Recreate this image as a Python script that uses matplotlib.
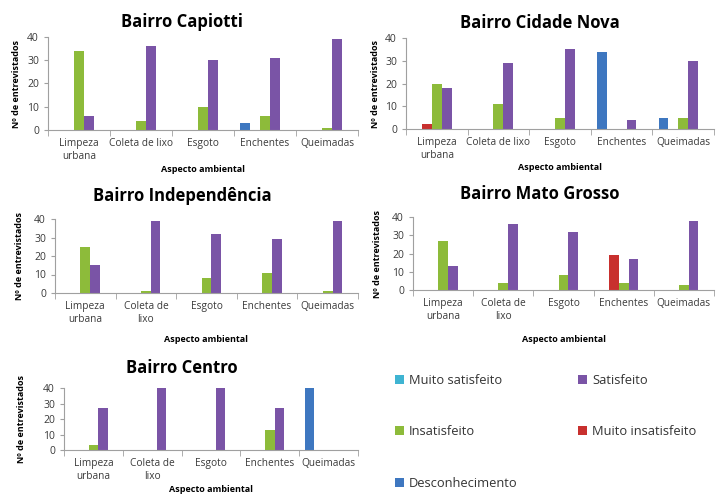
import matplotlib
matplotlib.use("Agg")
import matplotlib.pyplot as plt
import numpy as np

plt.rcParams['font.family'] = ['Open Sans', 'DejaVu Sans']

categories_one_line = ["Limpeza\nurbana", "Coleta de lixo", "Esgoto", "Enchentes", "Queimadas"]
categories_two_line = ["Limpeza\nurbana", "Coleta de\nlixo", "Esgoto", "Enchentes", "Queimadas"]
series = ["Desconhecimento", "Muito insatisfeito", "Insatisfeito", "Satisfeito", "Muito satisfeito"]
colors = {"Desconhecimento": "#3E77C0", "Muito insatisfeito": "#C8302E",
          "Insatisfeito": "#8DBB3A", "Satisfeito": "#7A54A6", "Muito satisfeito": "#3FB4D2"}

capiotti = {"Desconhecimento": [0, 0, 0, 3, 0], "Muito insatisfeito": [0, 0, 0, 0, 0],
            "Insatisfeito": [34, 4, 10, 6, 1], "Satisfeito": [6, 36, 30, 31, 39],
            "Muito satisfeito": [0, 0, 0, 0, 0]}
cidade_nova = {"Desconhecimento": [0, 0, 0, 34, 5], "Muito insatisfeito": [2, 0, 0, 0, 0],
               "Insatisfeito": [20, 11, 5, 0, 5], "Satisfeito": [18, 29, 35, 4, 30],
               "Muito satisfeito": [0, 0, 0, 0, 0]}
independencia = {"Desconhecimento": [0, 0, 0, 0, 0], "Muito insatisfeito": [0, 0, 0, 0, 0],
                 "Insatisfeito": [25, 1, 8, 11, 1], "Satisfeito": [15, 39, 32, 29, 39],
                 "Muito satisfeito": [0, 0, 0, 0, 0]}
mato_grosso = {"Desconhecimento": [0, 0, 0, 0, 0], "Muito insatisfeito": [0, 0, 0, 19, 0],
               "Insatisfeito": [27, 4, 8, 4, 3], "Satisfeito": [13, 36, 32, 17, 38],
               "Muito satisfeito": [0, 0, 0, 0, 0]}
centro = {"Desconhecimento": [0, 0, 0, 0, 40], "Muito insatisfeito": [0, 0, 0, 0, 0],
          "Insatisfeito": [3, 0, 0, 13, 0], "Satisfeito": [27, 40, 40, 27, 0],
          "Muito satisfeito": [0, 0, 0, 0, 0]}

W, H = 716, 494
fig = plt.figure(figsize=(W / 100, H / 100), dpi=100)

# title, data, labels, axes box in px (x0, x1, ytop, ybot), title x/y, ylabel x, xlabel y
panels = [
    ("Bairro Capiotti", capiotti, categories_one_line, 48, 358, 37, 130, 182, 22, 17, 169),
    ("Bairro Cidade Nova", cidade_nova, categories_one_line, 406, 714, 38, 129, 540, 23, 375, 168),
    ("Bairro Independência", independencia, categories_two_line, 55, 358, 219, 293, 182, 196, 20, 339),
    ("Bairro Mato Grosso", mato_grosso, categories_two_line, 413, 714, 217, 290, 540, 194, 378, 340),
    ("Bairro Centro", centro, categories_two_line, 64, 358, 388, 450, 182, 368, 22, 489),
]

bar_w = 0.16
handles = {}
for title, data, labels, x0, x1, yt, yb, tx, ty, ylx, xly in panels:
    ax = fig.add_axes([x0 / W, 1 - yb / H, (x1 - x0) / W, (yb - yt) / H])
    x = np.arange(len(labels))
    for i, s in enumerate(series):
        handles[s] = ax.bar(x + (i - 2) * bar_w, data[s], bar_w, color=colors[s], label=s)
    ax.set_xlim(-0.5, len(labels) - 0.5)
    ax.set_ylim(0, 40)
    ax.set_yticks([0, 10, 20, 30, 40])
    ax.set_xticks(x)
    ax.set_xticklabels(labels)
    ax.set_xticks(np.arange(-0.5, len(labels)), minor=True)
    ax.tick_params(axis='x', which='major', length=0, pad=6, labelsize=7.3, labelcolor='#3a3a3a')
    ax.tick_params(axis='x', which='minor', length=4, color='#A0A0A0')
    ax.tick_params(axis='y', length=3, color='#A0A0A0', labelsize=7.5, labelcolor='#3a3a3a')
    ax.spines['top'].set_visible(False)
    ax.spines['right'].set_visible(False)
    ax.spines['left'].set_color('#A0A0A0')
    ax.spines['bottom'].set_color('#A0A0A0')
    fig.text(tx / W, 1 - ty / H, title, ha='center', va='center', fontsize=12, fontweight='bold')
    fig.text(ylx / W, 1 - (yt + yb) / 2 / H, "Nº de entrevistados", rotation=90,
             ha='center', va='center', fontsize=6.5, fontweight='bold')
    fig.text((x0 + x1) / 2 / W, 1 - xly / H, "Aspecto ambiental", ha='center', va='center',
             fontsize=6.5, fontweight='bold')

order = ["Muito satisfeito", "Insatisfeito", "Desconhecimento", "Satisfeito", "Muito insatisfeito"]
fig.legend([handles[s] for s in order], order, loc='upper left',
           bbox_to_anchor=(383 / W, 1 - 362 / H), ncol=2, frameon=False,
           fontsize=9.3, labelspacing=3.0, columnspacing=4.7,
           handlelength=0.7, handleheight=0.7, handletextpad=0.4, labelcolor='#333333')

fig.savefig("out.png", dpi=100)
